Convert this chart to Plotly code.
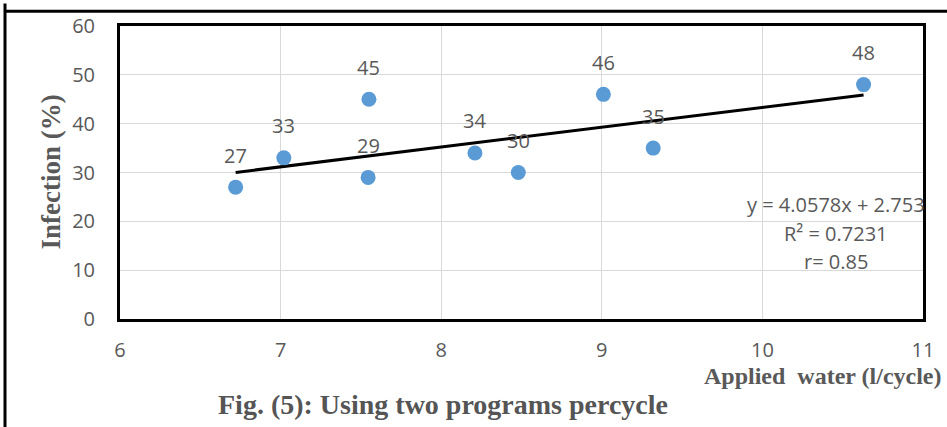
import plotly.graph_objects as go

applied_water = [6.72, 7.02, 7.545, 7.55, 8.21, 8.48, 9.01, 9.32, 10.63]
infection = [27, 33, 29, 45, 34, 30, 46, 35, 48]
slope = 4.0578
intercept = 2.753
x_ticks = [6, 7, 8, 9, 10, 11]
y_ticks = [0, 10, 20, 30, 40, 50, 60]
equation_lines = ["y = 4.0578x + 2.753", "R² = 0.7231", "r= 0.85"]

W, H = 947, 427
L, R, T, B = 120, 923, 21, 319  # plot area pixels


def px(xp):
    return (xp - L) / (R - L)


def py(yp):
    return (B - yp) / (B - T)


fig = go.Figure()

x_tr = [min(applied_water), max(applied_water)]
y_tr = [slope * v + intercept for v in x_tr]
fig.add_trace(go.Scatter(x=x_tr, y=y_tr, mode="lines",
                         line=dict(color="black", width=3), hoverinfo="skip"))
fig.add_trace(go.Scatter(x=applied_water, y=infection, mode="markers",
                         marker=dict(color="#5B9BD5", size=15)))

gray = "#595959"
sans = "Open Sans"
annotations = []
for xv, yv in zip(applied_water, infection):
    annotations.append(dict(x=xv, y=yv, text=str(yv), showarrow=False,
                            yshift=32, font=dict(family=sans, size=20, color=gray)))

for i, line in enumerate(equation_lines):
    annotations.append(dict(x=px(836), y=py(203 + 29 * i), xref="paper", yref="paper",
                            xanchor="center", yanchor="middle", text=line,
                            showarrow=False, font=dict(family=sans, size=20, color=gray)))
annotations.append(dict(x=px(944), y=py(377), xref="paper", yref="paper",
                        xanchor="right", yanchor="middle",
                        text="<b>Applied  water (l/cycle)</b>", showarrow=False,
                        font=dict(family="Liberation Serif", size=24, color=gray)))
annotations.append(dict(x=px(50), y=py(170), xref="paper", yref="paper",
                        textangle=-90, xanchor="center", yanchor="middle",
                        text="<b>Infection (%)</b>", showarrow=False,
                        font=dict(family="Liberation Serif", size=27, color=gray)))
annotations.append(dict(x=px(443), y=py(406), xref="paper", yref="paper",
                        xanchor="center", yanchor="middle",
                        text="<b>Fig. (5): Using two programs percycle</b>", showarrow=False,
                        font=dict(family="Liberation Serif", size=28, color="#555555")))

shapes = [
    dict(type="line", xref="paper", yref="paper", x0=px(5), x1=px(5), y0=py(-2), y1=py(430),
         line=dict(color="black", width=3)),
    dict(type="line", xref="paper", yref="paper", x0=px(4), x1=px(950), y0=py(6), y1=py(6),
         line=dict(color="black", width=3)),
]

fig.update_layout(
    width=W, height=H,
    margin=dict(l=L, r=W - R, t=T, b=H - B),
    paper_bgcolor="white", plot_bgcolor="white",
    showlegend=False,
    annotations=annotations,
    shapes=shapes,
    xaxis=dict(range=[6, 11], tickvals=x_ticks, showgrid=True, gridcolor="#D9D9D9", gridwidth=1,
               showline=True, linecolor="black", linewidth=3, mirror=True, zeroline=False,
               ticks="", ticklabelstandoff=11,
               tickfont=dict(family=sans, size=20, color=gray)),
    yaxis=dict(range=[0, 60], tickvals=y_ticks, showgrid=True, gridcolor="#D9D9D9", gridwidth=1,
               showline=True, linecolor="black", linewidth=3, mirror=True, zeroline=False,
               ticks="", ticklabelstandoff=18,
               tickfont=dict(family=sans, size=20, color=gray)),
)

fig.write_html("out.html", config={"displayModeBar": False},
               post_script="document.body.style.margin='0';document.body.style.overflow='hidden';")
